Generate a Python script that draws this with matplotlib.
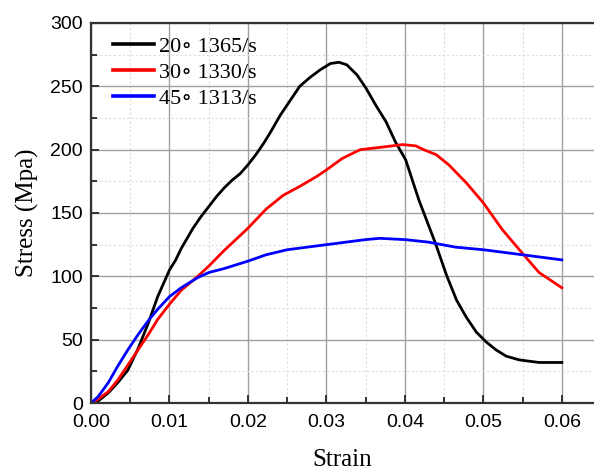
import matplotlib.pyplot as plt
from matplotlib.ticker import MultipleLocator

plt.rcParams["font.family"] = "sans-serif"
plt.rcParams["font.sans-serif"] = ["Liberation Sans"]

# strain / stress readings for each test
strain_20 = [0.0, 0.0009, 0.0022, 0.0034, 0.0047, 0.006, 0.0073, 0.0085, 0.01, 0.0108,
             0.0115, 0.013, 0.014, 0.015, 0.016, 0.017, 0.018, 0.019, 0.02, 0.021,
             0.022, 0.0228, 0.0241, 0.0254, 0.0266, 0.0279, 0.0292, 0.0305, 0.0316, 0.0326,
             0.0339, 0.035, 0.0363, 0.0376, 0.0388, 0.0401, 0.0418, 0.0439, 0.0453, 0.0466,
             0.0478, 0.0491, 0.0504, 0.0516, 0.0529, 0.0546, 0.0571, 0.06]
stress_20 = [0, 1.5, 8, 16, 26, 43, 63, 84, 105, 113,
             122, 138, 147, 155, 163, 170, 176, 181, 188, 196,
             205, 213, 227, 239, 250, 257, 263, 268, 269, 267,
             259, 249, 235, 222, 206, 192, 160, 126, 101, 81,
             68, 56, 48, 42, 37, 34, 32, 32]

strain_30 = [0.0, 0.0009, 0.0022, 0.0034, 0.0047, 0.006, 0.0073, 0.0085, 0.01, 0.0115,
             0.0136, 0.015, 0.0169, 0.02, 0.0223, 0.0245, 0.0266, 0.0288, 0.03, 0.032,
             0.0343, 0.0371, 0.0397, 0.0414, 0.0424, 0.044, 0.0456, 0.0478, 0.05, 0.0524,
             0.055, 0.0571, 0.06]
stress_30 = [0, 3, 9, 18, 30, 42, 54, 66, 78, 89,
             100, 108, 120, 138, 153, 164, 171, 179, 184, 193,
             200, 202, 204, 203, 200, 196, 188, 174, 158, 137,
             118, 103, 91]

strain_45 = [0.0, 0.0009, 0.0022, 0.0034, 0.0047, 0.006, 0.0073, 0.0085, 0.01, 0.0115,
             0.0136, 0.015, 0.0169, 0.02, 0.0223, 0.025, 0.03, 0.035, 0.0368, 0.04,
             0.043, 0.0465, 0.05, 0.055, 0.06]
stress_45 = [0, 5, 16, 29, 42, 54, 65, 74, 84, 91,
             99, 103, 106, 112, 117, 121, 125, 129, 130, 129,
             127, 123, 121, 117, 113]

labels = ["20\u2218 1365/s", "30\u2218 1330/s", "45\u2218 1313/s"]
colors = ["black", "red", "blue"]

fig = plt.figure(figsize=(5.94, 4.72), dpi=100)
ax = fig.add_axes([91 / 594, 1 - 403 / 472, (594 - 91) / 594, 380 / 472])

ax.plot(strain_20, stress_20, color=colors[0], lw=2.0, label=labels[0])
ax.plot(strain_30, stress_30, color=colors[1], lw=2.0, label=labels[1])
ax.plot(strain_45, stress_45, color=colors[2], lw=2.0, label=labels[2])

ax.set_xlim(0, 0.0641)
ax.set_ylim(0, 300)
ax.xaxis.set_major_locator(MultipleLocator(0.01))
ax.xaxis.set_minor_locator(MultipleLocator(0.005))
ax.yaxis.set_major_locator(MultipleLocator(50))
ax.yaxis.set_minor_locator(MultipleLocator(25))
ax.set_xticks([0, 0.01, 0.02, 0.03, 0.04, 0.05, 0.06])
ax.set_xticklabels(["0.00", "0.01", "0.02", "0.03", "0.04", "0.05", "0.06"])

ax.grid(which="major", color="#a0a0a0", lw=1.0)
ax.grid(which="minor", color="#dcdcdc", lw=0.8, linestyle=(0, (2, 2)))
ax.set_axisbelow(True)

for s in ["left", "bottom", "top"]:
    ax.spines[s].set_linewidth(1.6)
    ax.spines[s].set_color("#333333")
ax.spines["right"].set_visible(False)

ax.tick_params(which="both", direction="in", width=1.4, color="#333333", labelsize=14)
ax.tick_params(which="major", length=6)
ax.tick_params(which="minor", length=4)
ax.tick_params(axis="x", pad=8)
ax.tick_params(axis="y", pad=6)

ax.set_xlabel("Strain", family="Liberation Serif", fontsize=18, labelpad=13)
ax.set_ylabel("Stress (Mpa)", family="Liberation Serif", fontsize=18, labelpad=8)

leg = ax.legend(loc="upper left", frameon=False, handlelength=1.85, handletextpad=0.25,
                labelspacing=0.24, borderaxespad=0.4, bbox_to_anchor=(0.008, 1.012),
                prop={"family": ["Liberation Serif", "DejaVu Serif"], "size": 16})
for h in leg.legend_handles:
    h.set_linewidth(2.6)

fig.savefig("out.png", dpi=100)
